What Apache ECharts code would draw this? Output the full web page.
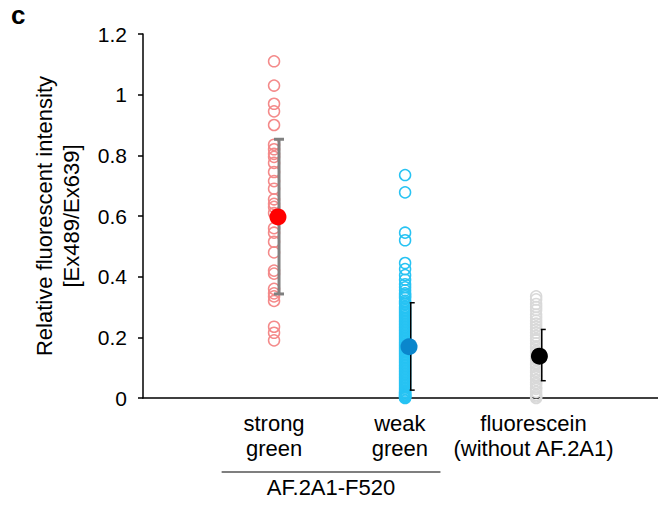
<!DOCTYPE html>
<html>
<head>
<meta charset="utf-8">
<script src="https://cdn.jsdelivr.net/npm/echarts@6/dist/echarts.min.js"></script>
<style>html,body{margin:0;padding:0;background:#fff}#c{width:658px;height:510px}</style>
</head>
<body>
<div id="c"></div>
<script>
// ---- data ----
const categories = ['strong\ngreen', 'weak\ngreen', 'fluorescein\n(without AF.2A1)'];
const groupLabel = 'AF.2A1-F520';
const panelLetter = 'c';
const yTitle = 'Relative fluorescent intensity\n[Ex489/Ex639]';
const strongValues = [1.11, 1.03, 0.97, 0.945, 0.90, 0.835, 0.82, 0.805, 0.795, 0.775, 0.745, 0.715, 0.69, 0.655, 0.64, 0.63, 0.61, 0.56, 0.545, 0.515, 0.48, 0.42, 0.41, 0.36, 0.345, 0.335, 0.32, 0.235, 0.215, 0.19];
const weakValues = [0.735, 0.678, 0.545, 0.52, 0.445, 0.425, 0.405, 0.39, 0.375, 0.365, 0.355, 0.345, 0.34, 0.335, 0.33, 0.32, 0.315, 0.31, 0.30, 0.295, 0.29, 0.285, 0.28, 0.275, 0.27, 0.265, 0.26, 0.255, 0.25, 0.245, 0.24, 0.235, 0.23, 0.225, 0.22, 0.215, 0.21, 0.205, 0.20, 0.195, 0.19, 0.185, 0.18, 0.175, 0.17, 0.165, 0.16, 0.155, 0.15, 0.145, 0.14, 0.135, 0.13, 0.125, 0.12, 0.115, 0.11, 0.105, 0.10, 0.095, 0.09, 0.085, 0.08, 0.075, 0.07, 0.065, 0.06, 0.055, 0.05, 0.045, 0.04, 0.035, 0.03, 0.025, 0.02, 0.018, 0.015, 0.012, 0.01, 0.008, 0.006, 0.004, 0.002, 0.0];
const fluoresceinValues = [0.335, 0.325, 0.31, 0.30, 0.29, 0.275, 0.265, 0.255, 0.245, 0.235, 0.225, 0.215, 0.205, 0.195, 0.19, 0.18, 0.17, 0.165, 0.155, 0.15, 0.14, 0.13, 0.125, 0.115, 0.11, 0.10, 0.09, 0.085, 0.075, 0.07, 0.06, 0.05, 0.045, 0.035, 0.03, 0.02, 0.01, 0.005, 0.0];
const means = [0.597, 0.169, 0.138];
const errLow = [0.343, 0.026, 0.057];
const errHigh = [0.853, 0.314, 0.226];
const yMin = 0, yMax = 1.2, yStep = 0.2;

// ---- layout/style ----
const FONT = 'Liberation Sans, Arial, sans-serif';
const catPos = [1, 2, 3];
const meanOffset = [0.03, 0.03, 0.025];
const barOffset = [0.038, 0.043, 0.043];
const labelPos = [1, 1.96, 2.98];
const circleColors = ['#f48a8a', '#27c3f3', '#d9d9d9'];
const meanColors = ['#ff0000', '#0a86cc', '#000000'];
const barColors = ['#808080', '#000000', '#000000'];
const barWidths = [3, 1.5, 1.5];
const capLeft = [5, 1, 1];
const capRight = [5, 4, 4];

const chart = echarts.init(document.getElementById('c'), null, {renderer: 'svg'});

function pointsFor(i, vals) { return vals.map(v => [catPos[i], v]); }

const valueSets = [strongValues, weakValues, fluoresceinValues];
const series = [];
function errSeries(i, z) {
  return {
    type: 'custom', z: z, silent: true,
    data: [[catPos[i] + barOffset[i], errLow[i], errHigh[i]]],
    renderItem: function (params, api) {
      const lo = api.coord([api.value(0), api.value(1)]);
      const hi = api.coord([api.value(0), api.value(2)]);
      const st = {stroke: barColors[i], lineWidth: barWidths[i]};
      return {type: 'group', children: [
        {type: 'line', shape: {x1: lo[0], y1: lo[1], x2: hi[0], y2: hi[1]}, style: st},
        {type: 'line', shape: {x1: hi[0] - capLeft[i], y1: hi[1], x2: hi[0] + capRight[i], y2: hi[1]}, style: st},
        {type: 'line', shape: {x1: lo[0] - capLeft[i], y1: lo[1], x2: lo[0] + capRight[i], y2: lo[1]}, style: st}
      ]};
    }
  };
}
[0, 1, 2].forEach(i => {
  series.push({
    type: 'scatter', z: 3, clip: false, silent: true,
    data: pointsFor(i, valueSets[i]),
    symbol: 'circle', symbolSize: 11,
    itemStyle: {color: 'rgba(255,255,255,0)', borderColor: circleColors[i], borderWidth: 1.5, opacity: 1}
  });
  series.push(errSeries(i, 4));
  series.push({
    type: 'scatter', z: 5, clip: false, silent: true,
    data: [[catPos[i] + meanOffset[i], means[i]]],
    symbol: 'circle', symbolSize: 17,
    itemStyle: {color: meanColors[i], opacity: 1}
  });
});

chart.setOption({
  animation: false,
  backgroundColor: '#fff',
  grid: {left: 143, right: 0, top: 34, bottom: 112, containLabel: false},
  xAxis: {
    type: 'value', min: 0, max: 3.93,
    axisLine: {show: true, lineStyle: {color: '#000', width: 1.5}},
    axisTick: {show: false}, axisLabel: {show: false}, splitLine: {show: false}
  },
  yAxis: {
    type: 'value', min: yMin, max: yMax, interval: yStep,
    name: yTitle, nameLocation: 'middle', nameGap: 58,
    nameTextStyle: {fontFamily: FONT, fontSize: 22, color: '#000', lineHeight: 27},
    axisLine: {show: true, lineStyle: {color: '#000', width: 1.5}},
    axisTick: {show: true, inside: false, length: 5, lineStyle: {color: '#000', width: 1.5}},
    axisLabel: {fontFamily: FONT, fontSize: 21, color: '#000', margin: 16},
    splitLine: {show: false}
  },
  series: series
});

const gl = [];
const axisY = chart.convertToPixel({yAxisIndex: 0}, 0);
categories.forEach((c, i) => {
  const px = chart.convertToPixel({xAxisIndex: 0}, labelPos[i]);
  gl.push({type: 'text', x: px, y: axisY + 13, style: {text: c, fontFamily: FONT, fontSize: 22, fill: '#000', textAlign: 'center', textVerticalAlign: 'top', lineHeight: 25}});
});
const lx1 = chart.convertToPixel({xAxisIndex: 0}, 0.6);
const lx2 = chart.convertToPixel({xAxisIndex: 0}, 2.27);
gl.push({type: 'line', shape: {x1: lx1, y1: axisY + 74, x2: lx2, y2: axisY + 74}, style: {stroke: '#000', lineWidth: 1.2}});
gl.push({type: 'text', x: (lx1 + lx2) / 2, y: axisY + 78, style: {text: groupLabel, fontFamily: FONT, fontSize: 22, fill: '#000', textAlign: 'center', textVerticalAlign: 'top'}});
gl.push({type: 'text', left: 11, top: 2, style: {text: panelLetter, fontFamily: FONT, fontSize: 26, fontWeight: 'bold', fill: '#000'}});
chart.setOption({graphic: gl});
</script>
</body>
</html>
